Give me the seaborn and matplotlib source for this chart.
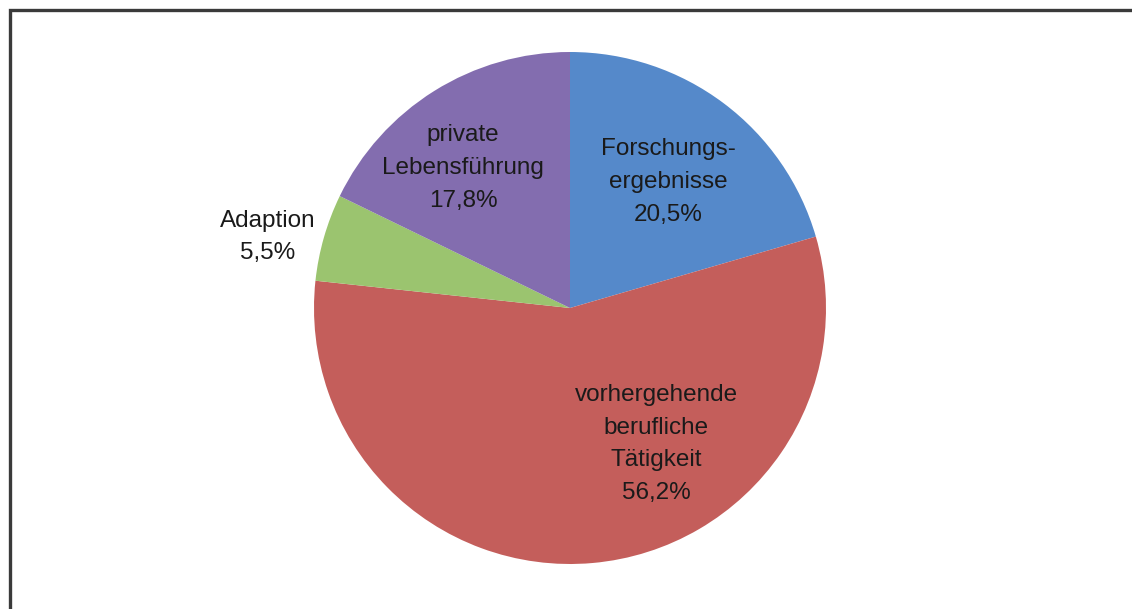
import matplotlib.pyplot as plt
import matplotlib.patches as mpatches
import seaborn as sns

# shares in percent, clockwise from 12 o'clock
labels = ['Forschungs-\nergebnisse', 'vorhergehende\nberufliche\nTätigkeit', 'Adaption', 'private\nLebensführung']
values = [20.5, 56.2, 5.5, 17.8]
pct_text = ['20,5%', '56,2%', '5,5%', '17,8%']

sns.set_theme(style='white')
plt.rcParams['font.family'] = ['Liberation Sans', 'DejaVu Sans']
colors = sns.color_palette(['#5589CA', '#C45E5B', '#9BC46F', '#836DAF'])

W, H = 1132, 609
fig = plt.figure(figsize=(W / 100, H / 100), dpi=100)
ax = fig.add_axes([0, 0, 1, 1])

cx, cy, r = 570, H - 308, 256
wedges, _ = ax.pie(values, colors=colors, startangle=90, counterclock=False,
                   center=(cx, cy), radius=r, frame=True,
                   wedgeprops=dict(linewidth=0))
ax.set_xlim(0, W)
ax.set_ylim(0, H)
ax.set_aspect('equal')
ax.axis('off')

# label anchor points (pixels from top-left)
label_pos = [(668, 182), (656, 444), (268, 237), (463, 168)]
for lab, pct, (x, y) in zip(labels, pct_text, label_pos):
    ax.text(x, H - y, lab + '\n' + pct, ha='center', va='center',
            fontsize=17.5, color='#1a1a1a', linespacing=1.62)

# frame line (top and left only visible)
frame = mpatches.Rectangle((9.5, -20), W + 40, H - 9.5 + 20, fill=False,
                           edgecolor='#3a3a3a', linewidth=2.4,
                           transform=ax.transData, clip_on=False)
ax.add_patch(frame)

fig.savefig('out.png', dpi=100)
